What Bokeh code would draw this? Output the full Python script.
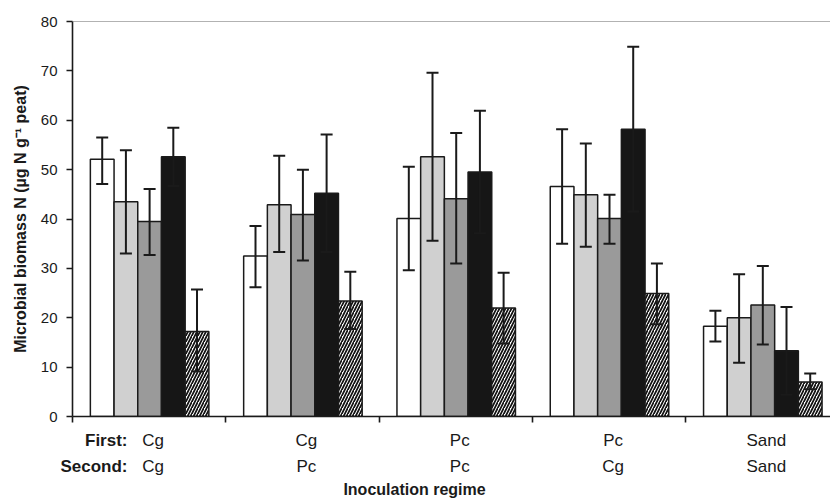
import numpy as np
from bokeh.plotting import figure
from bokeh.layouts import column
from bokeh.models import (ColumnDataSource, Whisker, TeeHead, FixedTicker,
                          Span, Range1d)
from bokeh.core.properties import value
from bokeh.embed import file_html
from bokeh.resources import INLINE

# ---------------- data ----------------
first_labels = ["Cg", "Cg", "Pc", "Pc", "Sand"]
second_labels = ["Cg", "Pc", "Pc", "Cg", "Sand"]
row_titles = ["First:", "Second:"]
y_ticks = [0, 10, 20, 30, 40, 50, 60, 70, 80]

white_mean = [52.1, 32.5, 40.1, 46.6, 18.3]
white_low = [47.1, 26.2, 29.6, 35.0, 15.2]
white_high = [56.5, 38.6, 50.6, 58.2, 21.4]

light_mean = [43.5, 42.9, 52.6, 44.9, 20.0]
light_low = [33.0, 33.3, 35.6, 34.4, 10.9]
light_high = [53.9, 52.8, 69.6, 55.3, 28.8]

mid_mean = [39.5, 40.9, 44.1, 40.1, 22.6]
mid_low = [32.7, 31.6, 31.0, 35.0, 14.6]
mid_high = [46.1, 50.0, 57.4, 44.9, 30.5]

black_mean = [52.6, 45.2, 49.5, 58.2, 13.3]
black_low = [46.7, 33.3, 37.1, 41.5, 4.4]
black_high = [58.5, 57.1, 61.9, 74.9, 22.2]

hatch_mean = [17.2, 23.4, 22.0, 24.9, 7.0]
hatch_low = [9.1, 17.7, 14.8, 18.7, 5.5]
hatch_high = [25.7, 29.3, 29.1, 31.0, 8.7]

series = [
    (white_mean, white_low, white_high, "#ffffff", None),
    (light_mean, light_low, light_high, "#d0d0d0", None),
    (mid_mean, mid_low, mid_high, "#9a9a9a", None),
    (black_mean, black_low, black_high, "#161616", None),
    (hatch_mean, hatch_low, hatch_high, "#ffffff", "/"),
]

# ---------------- layout constants ----------------
FONT = "Liberation Sans"
INK = "#1a1a1a"
W = 830
LEFT = 72          # px from page left to the y axis
GROUP_PX = 153.3   # px per inoculation group
n_groups = len(first_labels)
bar_w = 0.1546
x_end = (W - LEFT) / GROUP_PX
STRIP_H = 75
ROW_BASE = [16, 42]      # px baselines of the two label rows in the strip
ROW_MID = [16, 42]       # px centres of the bold row titles
TITLE_BASE = 65

# ---------------- main chart ----------------
p = figure(width=W, height=424, output_backend="svg", toolbar_location=None,
           x_range=Range1d(0, x_end), y_range=Range1d(0, 80),
           min_border_left=LEFT, min_border_right=0, min_border_top=21,
           min_border_bottom=8, outline_line_color=None,
           background_fill_color="white", border_fill_color="white")
p.grid.visible = False

group_x = np.arange(n_groups) + 0.5
for i, (mean, low, high, color, hatch) in enumerate(series):
    xs = group_x + (i - 2) * bar_w + 0.003
    src = ColumnDataSource(dict(x=xs, top=mean, low=low, high=high))
    kw = dict(x="x", top="top", bottom=0, width=bar_w, source=src,
              fill_color=color, line_color=INK, line_width=1.5)
    if hatch:
        kw.update(hatch_pattern=hatch, hatch_color="#111111",
                  hatch_scale=6, hatch_weight=1.7)
    p.vbar(**kw)
    wh = Whisker(source=src, base="x", upper="high", lower="low",
                 line_color=INK, line_width=2, level="overlay",
                 upper_head=TeeHead(size=12, line_color=INK, line_width=2),
                 lower_head=TeeHead(size=12, line_color=INK, line_width=2))
    p.add_layout(wh)

p.add_layout(Span(location=80, dimension="width", line_color="#666666",
                  line_width=1))

# y axis
p.yaxis.ticker = FixedTicker(ticks=y_ticks)
p.yaxis.minor_tick_line_color = None
p.yaxis.major_tick_in = 0
p.yaxis.major_tick_out = 6
p.yaxis.axis_line_width = 1.6
p.yaxis.axis_line_color = INK
p.yaxis.major_tick_line_width = 1.6
p.yaxis.major_tick_line_color = INK
p.yaxis.major_label_text_font = FONT
p.yaxis.major_label_text_font_size = "15px"
p.yaxis.major_label_text_color = INK
p.yaxis.major_label_standoff = 9
p.yaxis.axis_label = "Microbial biomass N (\u00b5g N g\u207b\u00b9 peat)"
p.yaxis.axis_label_text_font = FONT
p.yaxis.axis_label_text_font_style = "bold"
p.yaxis.axis_label_text_font_size = "16px"
p.yaxis.axis_label_text_color = INK
p.yaxis.axis_label_standoff = 9

# x axis: ticks at group boundaries, no labels
p.xaxis.ticker = FixedTicker(ticks=list(range(n_groups + 1)))
p.xaxis.major_label_overrides = {k: "" for k in range(n_groups + 1)}
p.xaxis.major_label_text_font_size = "0px"
p.xaxis.major_label_standoff = 0
p.xaxis.minor_tick_line_color = None
p.xaxis.major_tick_in = 0
p.xaxis.major_tick_out = 6
p.xaxis.axis_line_width = 1.6
p.xaxis.axis_line_color = INK
p.xaxis.major_tick_line_width = 1.6
p.xaxis.major_tick_line_color = INK

# ---------------- label strip under the chart ----------------
q = figure(width=W, height=STRIP_H, output_backend="svg",
           toolbar_location=None,
           x_range=Range1d(0, x_end), y_range=Range1d(STRIP_H, 0),
           min_border_left=LEFT, min_border_right=0, min_border_top=0,
           min_border_bottom=0, outline_line_color=None,
           background_fill_color="white", border_fill_color="white")
q.xaxis.visible = False
q.grid.visible = False

# bold row titles as tick labels of the strip's left axis
q.yaxis.ticker = FixedTicker(ticks=ROW_MID)
q.yaxis.major_label_overrides = {ROW_MID[0]: row_titles[0],
                                 ROW_MID[1]: row_titles[1]}
q.yaxis.axis_line_color = None
q.yaxis.major_tick_line_color = None
q.yaxis.minor_tick_line_color = None
q.yaxis.major_tick_in = 0
q.yaxis.major_tick_out = 0
q.yaxis.major_label_standoff = -55
q.yaxis.major_label_text_font = FONT
q.yaxis.major_label_text_font_size = "17px"
q.yaxis.major_label_text_font_style = "bold"
q.yaxis.major_label_text_color = INK

zeros = np.zeros(n_groups)
cat_src = ColumnDataSource(dict(x=group_x, y=zeros, first=first_labels,
                                second=second_labels))
for col, off in (("first", ROW_BASE[0]), ("second", ROW_BASE[1])):
    q.text(x="x", y="y", text=col, source=cat_src, x_offset=4, y_offset=off,
           text_align="center", text_baseline="alphabetic",
           text_font=value(FONT), text_font_size=value("17px"),
           text_color=INK)

q.text(x=[2.231], y=[0], text=["Inoculation regime"], y_offset=TITLE_BASE,
       text_align="center", text_baseline="alphabetic",
       text_font=value(FONT), text_font_size=value("16px"),
       text_font_style="bold", text_color=INK)

layout = column(p, q, spacing=0)
open("out.html", "w").write(file_html(layout, INLINE))
